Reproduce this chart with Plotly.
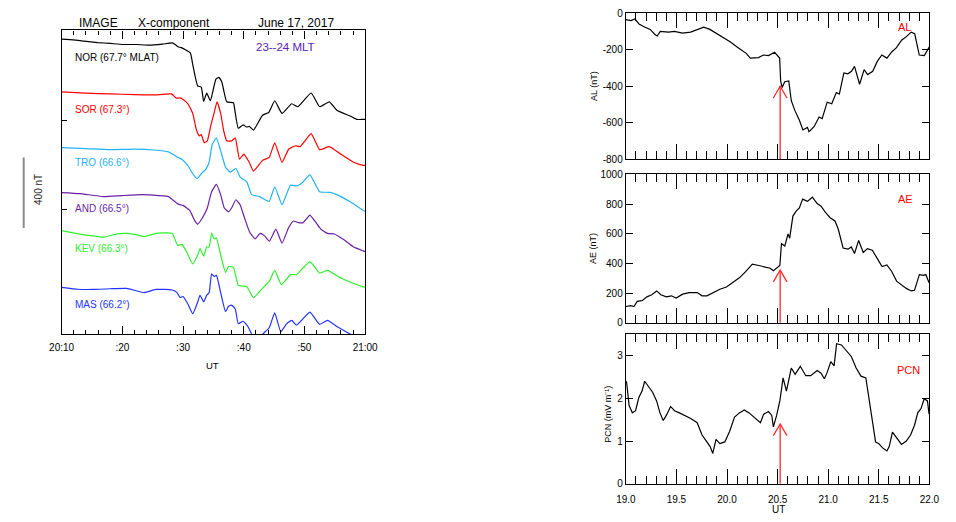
import plotly.graph_objects as go

W, H = 956, 522
FONT = "Liberation Sans, Arial, Helvetica, sans-serif"

# ---------------- Left panel: IMAGE X-component (minutes after 20:00 UT, nT on stacked scale) ----
NOR_T = [10, 11.9, 13.7, 15.9, 18.0, 20.1, 22.3, 24.4, 26.6, 28.2, 28.7, 29.2, 29.7, 31.2, 31.6, 32.4, 33.0, 33.4, 33.9, 34.5,
         35.4, 35.9, 36.4, 37.2, 38.3, 38.5, 39.1, 39.9, 40.5, 40.9, 41.6, 43.1, 44.1, 45.1, 46.3, 47.9, 48.9, 51.1, 52.5, 54.1,
         55.4, 57.6, 58.6, 59.7, 60.0]
NOR = [1678, 1674, 1667, 1659, 1654, 1648, 1648, 1644, 1650, 1657, 1648, 1635, 1630, 1600, 1533, 1413, 1405, 1324, 1372, 1328,
       1450, 1461, 1433, 1322, 1317, 1283, 1172, 1191, 1178, 1183, 1161, 1246, 1261, 1328, 1256, 1311, 1294, 1372, 1294, 1322,
       1272, 1240, 1222, 1222, 1222]

SOR_T = [10, 14.0, 18.0, 22.0, 25.2, 28.1, 28.9, 29.5, 30.0, 30.8, 31.6, 32.2, 32.7, 33.0, 33.5, 34.0, 34.6, 35.1, 35.6, 36.2,
         36.7, 37.2, 38.0, 38.6, 39.3, 40.0, 40.9, 41.6, 43.1, 44.2, 45.1, 46.3, 47.4, 48.5, 49.3, 51.1, 52.5, 54.1, 56.0, 58.1,
         59.7, 60.0]
SOR = [1378, 1371, 1367, 1363, 1361, 1367, 1343, 1344, 1335, 1311, 1256, 1163, 1128, 1135, 1089, 1100, 1191, 1256, 1322, 1256,
       1156, 1100, 1100, 1117, 996, 1024, 978, 928, 989, 1006, 1089, 978, 1052, 1072, 1067, 1141, 1050, 1067, 1024, 978,
       961, 961]

TRO_T = [10, 14.0, 18.0, 22.0, 25.2, 27.6, 29.2, 29.8, 30.8, 31.6, 32.3, 33.0, 33.8, 34.3, 34.8, 35.5, 36.2, 37.0, 37.8, 38.7,
         39.4, 40.5, 41.3, 42.6, 44.2, 45.1, 46.3, 47.7, 48.7, 49.5, 50.9, 52.5, 54.3, 55.4, 57.6, 59.7, 60.0]
TRO = [1061, 1056, 1050, 1053, 1048, 1037, 1005, 996, 959, 913, 885, 913, 941, 978, 1079, 1117, 1043, 950, 922, 944,
       894, 867, 794, 783, 756, 839, 737, 848, 844, 857, 907, 811, 807, 793, 752, 704, 700]

AND_T = [10, 13.0, 16.9, 20.0, 23.3, 26.0, 27.6, 29.2, 30.0, 31.1, 31.9, 32.4, 33.2, 34.0, 34.7, 35.5, 36.2, 36.8, 37.5, 38.0,
         38.7, 39.4, 40.2, 41.0, 41.9, 42.7, 43.4, 44.2, 45.3, 46.3, 47.4, 48.2, 49.0, 49.8, 50.9, 51.9, 52.7, 53.8, 54.9, 56.5,
         58.1, 59.7, 60.0]
AND = [806, 800, 783, 789, 794, 789, 783, 740, 733, 704, 648, 626, 663, 718, 811, 852, 793, 718, 696, 718,
       765, 737, 654, 579, 543, 574, 561, 529, 598, 518, 607, 644, 635, 635, 678, 635, 598, 574, 570, 537,
       496, 474, 470]

KEV_T = [10, 12.7, 14.8, 16.9, 19.1, 20.7, 22.3, 23.6, 25.5, 28.2, 29.1, 29.8, 30.6, 31.6, 32.4, 32.8, 33.4, 33.9, 34.3, 34.7,
         35.1, 35.5, 36.2, 37.0, 37.5, 38.3, 39.1, 40.5, 41.6, 42.9, 44.2, 45.1, 46.2, 47.7, 48.7, 50.9, 52.5, 53.8, 56.0, 58.1,
         59.7, 60.0]
KEV = [589, 571, 561, 552, 571, 574, 567, 555, 574, 574, 506, 511, 468, 400, 450, 487, 444, 496, 496, 576,
       543, 548, 450, 352, 385, 382, 278, 270, 209, 255, 302, 363, 283, 339, 339, 413, 348, 363, 320, 289,
       270, 268]

MAS_T = [10, 12.7, 15.3, 18.0, 20.7, 23.6, 25.5, 28.2, 29.0, 29.5, 30.0, 30.8, 31.6, 32.4, 32.8, 33.4, 33.9, 34.3, 34.7, 35.1,
         35.5, 36.2, 37.0, 37.5, 38.0, 38.6, 39.1, 39.9, 40.7, 41.3, 42.1, 43.1, 44.2, 45.1, 46.1, 47.1, 47.9, 48.7, 50.9, 52.5,
         53.8, 55.4, 57.6, 59.7, 60.0]
MAS = [267, 256, 255, 259, 261, 237, 255, 252, 237, 209, 215, 172, 117, 182, 222, 185, 222, 237, 344, 329,
       335, 237, 129, 159, 166, 144, 61, 74, 43, 0, -50, 0, 37, 122, 15, 61, 79, 52, 126, 56,
       79, 43, 0, -50, -55]

STATION_NAMES = ["NOR (67.7° MLAT)", "SOR (67.3°)", "TRO (66.6°)", "AND (66.5°)", "KEV (66.3°)", "MAS (66.2°)"]
STATION_COLORS = ["#000000", "#ff0000", "#1fb2f5", "#6a1fa6", "#2ef02e", "#2233ff"]
STATION_LABEL_Y = [53, 106, 160, 207, 248, 306]   # pixel rows of the labels
LEFT_XTICKS = [10, 20, 30, 40, 50, 60]
LEFT_XTICKTEXT = ["20:10", ":20", ":30", ":40", ":50", "21:00"]
LEFT_YRANGE = [0, 1728]
SCALE_BAR_NT = 400
SCALE_BAR_BASE = 605

# ---------------- Right panels: AL, AE, PCN (UT hours) ----------------
AL_T = [19.0, 19.05, 19.09, 19.13, 19.19, 19.24, 19.29, 19.31, 19.34, 19.42, 19.48, 19.56, 19.64, 19.71, 19.77, 19.83, 19.93,
        20.03, 20.12, 20.19, 20.23, 20.31, 20.36, 20.41, 20.47, 20.52, 20.53, 20.545, 20.57, 20.61, 20.635, 20.67, 20.715,
        20.75, 20.795, 20.81, 20.86, 20.91, 20.94, 20.99, 21.035, 21.08, 21.11, 21.155, 21.195, 21.23, 21.26, 21.31, 21.355,
        21.39, 21.44, 21.485, 21.53, 21.58, 21.63, 21.675, 21.725, 21.77, 21.82, 21.855, 21.9, 21.95, 22.0]
AL = [-36, -41, -32, -59, -77, -89, -118, -125, -100, -104, -100, -109, -104, -89, -77, -89, -121,
      -157, -193, -220, -246, -243, -229, -232, -214, -246, -371, -407, -375, -371, -479, -532, -586,
      -639, -625, -648, -621, -568, -577, -487, -496, -434, -443, -327, -332, -318, -291, -389, -309,
      -336, -318, -264, -229, -246, -211, -189, -148, -130, -104, -113, -229, -232, -184]

AE_T = [19.0, 19.048, 19.08, 19.112, 19.16, 19.208, 19.256, 19.304, 19.346, 19.40, 19.449, 19.497, 19.561, 19.625, 19.705,
        19.753, 19.801, 19.865, 19.929, 19.994, 20.058, 20.122, 20.186, 20.25, 20.314, 20.378, 20.426, 20.458, 20.49, 20.522,
        20.538, 20.571, 20.603, 20.619, 20.651, 20.683, 20.715, 20.747, 20.795, 20.843, 20.891, 20.929, 20.971, 21.019, 21.067,
        21.099, 21.147, 21.196, 21.228, 21.26, 21.301, 21.346, 21.388, 21.436, 21.484, 21.532, 21.58, 21.628, 21.676, 21.724,
        21.772, 21.82, 21.853, 21.901, 21.942, 21.965, 21.997]
AE = [110, 116, 110, 145, 149, 175, 189, 215, 189, 175, 182, 167, 193, 204, 204,
      182, 182, 204, 226, 241, 270, 303, 346, 395, 386, 373, 368, 351, 368, 386,
      533, 518, 599, 570, 719, 752, 774, 833, 818, 846, 803, 785, 746, 708, 686,
      632, 504, 496, 511, 467, 555, 474, 500, 489, 434, 379, 390, 346, 281, 254,
      232, 215, 219, 325, 320, 325, 270]

PCN_T = [19.006, 19.032, 19.064, 19.096, 19.128, 19.16, 19.186, 19.224, 19.263, 19.304, 19.337, 19.369, 19.40, 19.442, 19.481,
         19.529, 19.577, 19.641, 19.705, 19.753, 19.801, 19.833, 19.859, 19.891, 19.929, 19.978, 20.026, 20.074, 20.122, 20.17,
         20.218, 20.282, 20.33, 20.362, 20.41, 20.442, 20.458, 20.49, 20.522, 20.554, 20.587, 20.635, 20.673, 20.724, 20.779,
         20.827, 20.891, 20.929, 20.962, 20.987, 21.026, 21.058, 21.083, 21.131, 21.179, 21.228, 21.276, 21.324, 21.372, 21.404,
         21.436, 21.468, 21.5, 21.538, 21.58, 21.603, 21.635, 21.676, 21.724, 21.772, 21.814, 21.853, 21.885, 21.917, 21.949,
         21.981, 21.997]
PCN = [2.40, 1.83, 1.66, 1.71, 2.02, 2.17, 2.40, 2.29, 2.15, 1.94, 1.66, 1.48, 1.60, 1.81, 1.71,
       1.66, 1.60, 1.53, 1.43, 1.14, 0.98, 0.87, 0.71, 1.04, 0.94, 0.98, 1.23, 1.56, 1.66, 1.73,
       1.66, 1.53, 1.43, 1.63, 1.69, 1.60, 1.33, 1.60, 1.94, 2.48, 2.17, 2.71, 2.56, 2.75, 2.53,
       2.53, 2.65, 2.59, 2.46, 2.59, 2.86, 2.76, 3.28, 3.25, 3.12, 2.98, 2.71, 2.52, 2.48, 1.98,
       1.37, 0.98, 0.94, 0.84, 0.77, 0.87, 1.21, 1.07, 0.92, 1.00, 1.14, 1.37, 1.66, 1.76, 1.99,
       1.94, 1.63]

ONSET_UT = 20.525
ARROW_TIPS = [-400, 355, 1.4]          # AL, AE, PCN
AL_RANGE = [-800, 0]
AE_RANGE = [0, 1000]
PCN_RANGE = [0, 3.5]
AL_TICKS = [-800, -600, -400, -200, 0]
AE_TICKS = [0, 200, 400, 600, 800, 1000]
PCN_TICKS = [0, 1, 2, 3]


def px(x):
    return x / W


def py(y):
    return 1 - y / H


fig = go.Figure()

left_series = [(NOR_T, NOR), (SOR_T, SOR), (TRO_T, TRO), (AND_T, AND), (KEV_T, KEV), (MAS_T, MAS)]
for (t, v), col in zip(left_series, STATION_COLORS):
    fig.add_trace(go.Scatter(x=t, y=v, mode="lines", line=dict(color=col, width=1.2, shape="spline", smoothing=0.4),
                             xaxis="x", yaxis="y", hoverinfo="skip"))

for t, v, xa, ya in [(AL_T, AL, "x2", "y2"), (AE_T, AE, "x3", "y3"), (PCN_T, PCN, "x4", "y4")]:
    fig.add_trace(go.Scatter(x=t, y=v, mode="lines", line=dict(color="black", width=1.2),
                             xaxis=xa, yaxis=ya, hoverinfo="skip"))

# onset arrows (open V heads), sized in pixels
panel_px_h = [150, 152, 153]
ranges = [AL_RANGE, AE_RANGE, PCN_RANGE]
head_dx = 7 / 104.0
for tip, rng, hpx, xa, ya in zip(ARROW_TIPS, ranges, panel_px_h, ["x2", "x3", "x4"], ["y2", "y3", "y4"]):
    dv = 12 * (rng[1] - rng[0]) / hpx
    fig.add_trace(go.Scatter(
        x=[ONSET_UT, ONSET_UT, None, ONSET_UT - head_dx, ONSET_UT, ONSET_UT + head_dx],
        y=[rng[0], tip, None, tip - dv, tip, tip - dv],
        mode="lines", line=dict(color="#ff2a2a", width=1.3), xaxis=xa, yaxis=ya, hoverinfo="skip"))

tickfont = dict(family=FONT, size=10, color="black")
base = dict(showline=True, linecolor="black", linewidth=1.3, ticks="inside", tickcolor="black", tickwidth=1,
            showgrid=False, zeroline=False, tickfont=tickfont)

layout = dict(
    width=W, height=H, margin=dict(l=0, r=0, t=0, b=0),
    paper_bgcolor="white", plot_bgcolor="white", showlegend=False,
    font=dict(family=FONT, size=10, color="black"),
    xaxis=dict(base, domain=[px(50), px(362)], range=[10, 60], tickvals=LEFT_XTICKS, ticktext=LEFT_XTICKTEXT,
               ticklen=8, mirror="ticks", anchor="y", ticklabelstandoff=4,
               minor=dict(dtick=2, tick0=0, ticklen=4, ticks="inside", tickcolor="black", tickwidth=1, showgrid=False)),
    yaxis=dict(base, domain=[py(336), py(25)], range=LEFT_YRANGE, tickvals=[711, 1217], showticklabels=False,
               ticklen=5, mirror=True, anchor="x"),
)

right_x = dict(base, domain=[px(630), px(942)], range=[19, 22], dtick=0.5, tick0=19, ticklen=15, mirror="ticks",
               minor=dict(dtick=0.1, tick0=19, ticklen=8, ticks="inside", tickcolor="black", tickwidth=1, showgrid=False))
layout["xaxis2"] = dict(right_x, anchor="y2", showticklabels=False)
layout["xaxis3"] = dict(right_x, anchor="y3", showticklabels=False)
layout["xaxis4"] = dict(right_x, anchor="y4", tickformat=".1f", ticklabelstandoff=6)
layout["yaxis2"] = dict(base, domain=[py(157), py(7.3)], range=AL_RANGE, tickvals=AL_TICKS,
                        ticktext=[str(v) for v in AL_TICKS], ticklen=7, mirror="ticks", anchor="x2")
layout["yaxis3"] = dict(base, domain=[py(324.3), py(172.3)], range=AE_RANGE, tickvals=AE_TICKS,
                        ticktext=[str(v) for v in AE_TICKS], ticklen=7, mirror="ticks", anchor="x3")
layout["yaxis4"] = dict(base, domain=[py(489), py(336)], range=PCN_RANGE, tickvals=PCN_TICKS,
                        ticktext=[str(v) for v in PCN_TICKS], ticklen=7, mirror="ticks", anchor="x4")
fig.update_layout(**layout)


def label(text, x, y, size=10, color="black", xanchor="center", angle=0):
    fig.add_annotation(text=text, x=px(x), y=py(y), xref="paper", yref="paper", showarrow=False,
                       xanchor=xanchor, yanchor="middle", textangle=angle,
                       font=dict(family=FONT, size=size, color=color))


# left titles
label("IMAGE", 88, 17, 12)
label("X-component", 165, 17, 12)
label("June 17, 2017", 291, 17, 12)
label("23--24 MLT", 280, 42, 11.5, "#5a22b8")
for name, col, yy in zip(STATION_NAMES, STATION_COLORS, STATION_LABEL_Y):
    label(name, 62, yy, 10, col, xanchor="left")
label("UT", 205, 368, 9.5)

# scale bar
fig.add_shape(type="line", xref="paper", yref="y", x0=px(11), x1=px(11),
              y0=SCALE_BAR_BASE, y1=SCALE_BAR_BASE + SCALE_BAR_NT, line=dict(color="#8a8a8a", width=2))
label(f"{SCALE_BAR_NT} nT", 26, 188, 10, "#222222", angle=-90)

# right panel labels
label("AL (nT)", 597, 82, 9, angle=-90)
label("AE (nT)", 597, 248, 9, angle=-90)
label("PCN (mV m\u207b\u00b9)", 612, 418, 9, angle=-90)
label("AL", 916, 22, 11, "#ff0000")
label("AE", 917, 198, 11, "#ff0000")
label("PCN", 921, 373, 11, "#ff0000")
label("UT", 787, 515, 10)

fig.write_html("out.html")
